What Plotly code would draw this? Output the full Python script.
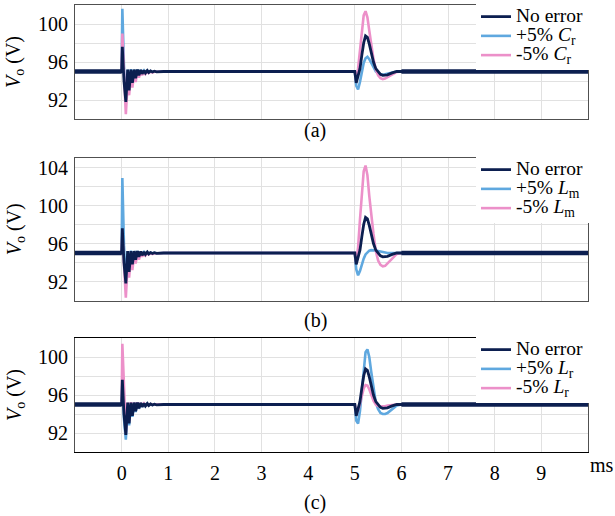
import plotly.graph_objects as go

# ---------------- data ----------------
# time grid (ms): start-up transient around 0 ms, load transient around 5 ms
T_START = [-1.0, 0.0, 0.015, 0.05, 0.09, 0.13, 0.16, 0.2, 0.23, 0.27, 0.3, 0.34, 0.37,
           0.41, 0.44, 0.48, 0.51, 0.55, 0.58, 0.62, 0.66, 0.7, 0.75, 0.8, 0.9, 1.0]
T_STEP = [5.0, 5.03, 5.07, 5.11, 5.15, 5.19, 5.23, 5.27, 5.31, 5.35, 5.4, 5.45, 5.5,
          5.55, 5.6, 5.65, 5.7, 5.8, 5.9, 6.0]
T_END = [10.0]
TIME = T_START + T_STEP + T_END

# No error (same reference waveform in every panel)
NOERR_0 = [95, 95, 97.6, 94.0, 91.8, 95.2, 93.0, 95.2, 93.8, 95.2, 94.3, 95.2, 94.6,
           95.15, 94.75, 95.1, 94.85, 95.1, 94.9, 95.05, 94.95, 95.03, 94.97, 95.0, 95.0, 95.0]
NOERR_5 = [95.0, 93.8, 94.5, 95.3, 96.7, 98.0, 98.75, 98.6, 97.9, 97.0, 96.0, 95.3, 94.95,
           94.7, 94.6, 94.6, 94.65, 94.85, 95.0, 95.0]

# (a) Cr error
CR_PLUS_0 = [95, 95, 101.6, 95.5, 92.0, 95.2, 93.1, 95.25, 93.9, 95.2, 94.35, 95.2, 94.65,
             95.15, 94.8, 95.1, 94.88, 95.08, 94.92, 95.05, 94.96, 95.02, 94.98, 95.0, 95.0, 95.0]
CR_PLUS_5 = [95.0, 93.5, 93.1, 93.9, 95.0, 95.9, 96.4, 96.55, 96.3, 95.9, 95.4, 95.0, 94.8,
             94.7, 94.65, 94.7, 94.75, 94.9, 95.0, 95.0]
CR_MINUS_0 = [95, 95, 99.0, 94.5, 90.5, 94.0, 92.5, 94.7, 93.3, 94.9, 93.9, 95.0, 94.35,
              95.0, 94.6, 95.0, 94.75, 95.0, 94.85, 95.0, 94.9, 94.98, 94.95, 94.98, 95.0, 95.0]
CR_MINUS_5 = [95.0, 94.0, 95.3, 97.2, 99.3, 100.9, 101.35, 100.7, 99.3, 97.9, 96.3, 95.2, 94.6,
              94.3, 94.2, 94.25, 94.4, 94.7, 94.95, 95.0]

# (b) Lm error
LM_PLUS_0 = [95, 95, 102.9, 95.8, 91.9, 95.2, 93.1, 95.25, 93.9, 95.2, 94.4, 95.2, 94.65,
             95.15, 94.8, 95.1, 94.88, 95.08, 94.92, 95.05, 94.96, 95.02, 94.98, 95.0, 95.0, 95.0]
LM_PLUS_5 = [95.0, 93.3, 92.65, 93.1, 93.8, 94.4, 94.85, 95.1, 95.25, 95.3, 95.3, 95.25, 95.2,
             95.15, 95.1, 95.05, 95.0, 95.0, 95.0, 95.0]
LM_MINUS_0 = [95, 95, 97.0, 93.5, 90.3, 94.0, 92.4, 94.7, 93.2, 94.9, 93.9, 95.0, 94.3,
              95.0, 94.6, 95.0, 94.75, 95.0, 94.85, 95.0, 94.9, 94.98, 94.95, 94.98, 95.0, 95.0]
LM_MINUS_5 = [95.0, 94.0, 95.6, 98.5, 101.5, 103.6, 104.2, 103.2, 101.0, 99.0, 97.0, 95.2, 94.2,
              93.75, 93.6, 93.65, 93.9, 94.5, 94.9, 95.0]

# (c) Lr error
LR_PLUS_0 = [95, 95, 97.2, 93.5, 91.3, 95.0, 92.8, 95.2, 93.7, 95.2, 94.2, 95.2, 94.55,
             95.15, 94.75, 95.1, 94.85, 95.1, 94.9, 95.05, 94.95, 95.03, 94.97, 95.0, 95.0, 95.0]
LR_PLUS_5 = [95.0, 93.3, 93.0, 94.3, 96.2, 98.6, 100.5, 100.8, 100.0, 98.5, 96.6, 95.2, 94.5,
             94.1, 94.0, 94.0, 94.1, 94.5, 94.9, 95.0]
LR_MINUS_0 = [95, 95, 101.4, 96.0, 92.0, 95.2, 93.2, 95.25, 93.9, 95.2, 94.4, 95.2, 94.65,
              95.15, 94.8, 95.1, 94.9, 95.08, 94.92, 95.05, 94.96, 95.02, 94.98, 95.0, 95.0, 95.0]
LR_MINUS_5 = [95.0, 94.1, 94.4, 95.1, 96.0, 96.7, 97.05, 97.0, 96.6, 96.0, 95.4, 95.0, 94.85,
              94.8, 94.8, 94.82, 94.88, 94.95, 95.0, 95.0]

STEADY = [95.0]

NO_ERROR = NOERR_0 + NOERR_5 + STEADY
PLUS = [CR_PLUS_0 + CR_PLUS_5 + STEADY, LM_PLUS_0 + LM_PLUS_5 + STEADY, LR_PLUS_0 + LR_PLUS_5 + STEADY]
MINUS = [CR_MINUS_0 + CR_MINUS_5 + STEADY, LM_MINUS_0 + LM_MINUS_5 + STEADY, LR_MINUS_0 + LR_MINUS_5 + STEADY]

PARAM_LABELS = ["<i>C</i><sub>r</sub>", "<i>L</i><sub>m</sub>", "<i>L</i><sub>r</sub>"]
CAPTIONS = ["(a)", "(b)", "(c)"]
X_TICKS = [0, 1, 2, 3, 4, 5, 6, 7, 8, 9]
Y_RANGES = [[90, 102], [90, 105], [90, 102]]
Y_TICKS = [[92, 96, 100], [92, 96, 100, 104], [92, 96, 100]]
Y_MINOR = [[90, 94, 98, 102], [90, 94, 98, 102], [90, 94, 98, 102]]

# ---------------- styling ----------------
FONT = "Times New Roman, Liberation Serif, serif"
NAVY = "#0c1f50"
BLUE = "#5fa8df"
PINK = "#ec90c9"
GRID = "#e1e1e1"
FRAME = "#505050"

W, H = 615, 516
X_DOM = [75 / W, 588 / W]
PANEL_PX = [(5, 119), (158, 300.5), (338, 452)]  # top, bottom in px
Y_DOMS = [[1 - b / H, 1 - t / H] for t, b in PANEL_PX]


def span(txt):
    return '<span style="font-size:19.5px">' + txt + '</span>'


fig = go.Figure()
for i in range(3):
    ax = "" if i == 0 else str(i + 1)
    leg = "legend" if i == 0 else "legend" + str(i + 1)
    common = dict(xaxis="x" + ax, yaxis="y" + ax, mode="lines", legend=leg)
    fig.add_trace(go.Scatter(x=TIME, y=PLUS[i], name=span("+5% " + PARAM_LABELS[i]),
                             line=dict(color=BLUE, width=2.6), legendrank=2, **common))
    fig.add_trace(go.Scatter(x=TIME, y=MINUS[i], name=span("-5% " + PARAM_LABELS[i]),
                             line=dict(color=PINK, width=2.6), legendrank=3, **common))
    fig.add_trace(go.Scatter(x=TIME, y=NO_ERROR, name=span("No error"),
                             line=dict(color=NAVY, width=2.8), legendrank=1, **common))
    # switching ripple band of the steady state (thicker trace)
    for lo, hi in [(-1.0, 0.0), (6.0, 10.0)]:
        seg_t = [t for t in TIME if lo <= t <= hi]
        seg_v = [v for t, v in zip(TIME, NO_ERROR) if lo <= t <= hi]
        fig.add_trace(go.Scatter(x=seg_t, y=seg_v, showlegend=False, hoverinfo="skip",
                                 line=dict(color=NAVY, width=4.6), **common))

layout = dict(
    width=W, height=H, margin=dict(l=0, r=0, t=0, b=0, autoexpand=False),
    paper_bgcolor="white", plot_bgcolor="white",
    font=dict(family=FONT, size=20, color="black"),
    annotations=[],
)
for i in range(3):
    ax = "" if i == 0 else str(i + 1)
    layout["xaxis" + ax] = dict(
        domain=X_DOM, range=[-1, 10], anchor="y" + ax, automargin=False,
        tickvals=X_TICKS, showticklabels=(i == 2),
        showgrid=True, gridcolor=GRID, gridwidth=1, zeroline=False,
        showline=True, mirror=True, linecolor=("black" if i == 2 else FRAME), linewidth=1,
        ticks="", ticklabelstandoff=3,
        tickfont=dict(family=FONT, size=20, color="black"),
    )
    layout["yaxis" + ax] = dict(
        domain=Y_DOMS[i], range=Y_RANGES[i], anchor="x" + ax, automargin=False,
        tickvals=Y_TICKS[i],
        minor=dict(tickvals=Y_MINOR[i], showgrid=True, gridcolor=GRID, gridwidth=1, ticks=""),
        showgrid=True, gridcolor=GRID, gridwidth=1, zeroline=False,
        showline=True, mirror=True, linecolor=FRAME, linewidth=1,
        ticks="", ticklabelstandoff=2,
        tickfont=dict(family=FONT, size=20, color="black"),
    )
    leg = "legend" if i == 0 else "legend" + str(i + 1)
    top_px = PANEL_PX[i][0]
    layout[leg] = dict(
        x=589 / W, xanchor="right", y=1 - (top_px - 3) / H, yanchor="top",
        bgcolor="white", borderwidth=0, font=dict(family=FONT, size=12.5, color="black"),
        itemwidth=30, tracegroupgap=0,
    )
    yc = (Y_DOMS[i][0] + Y_DOMS[i][1]) / 2
    layout["annotations"].append(dict(
        text="<i>V</i><sub>o</sub> (V)", xref="paper", yref="paper", x=15 / W, y=yc,
        xanchor="center", yanchor="middle",
        textangle=-90, showarrow=False, font=dict(family=FONT, size=20)))

CAP_Y = [130, 320, 502]
for i in range(3):
    layout["annotations"].append(dict(
        text=CAPTIONS[i], xref="paper", yref="paper", x=315 / W, y=1 - CAP_Y[i] / H,
        xanchor="center", yanchor="middle",
        showarrow=False, font=dict(family=FONT, size=20)))
layout["annotations"].append(dict(
    text="ms", xref="paper", yref="paper", x=602 / W, y=1 - 465 / H,
    xanchor="center", yanchor="middle",
    showarrow=False, font=dict(family=FONT, size=20)))

fig.update_layout(**layout)
fig.write_html("out.html")
